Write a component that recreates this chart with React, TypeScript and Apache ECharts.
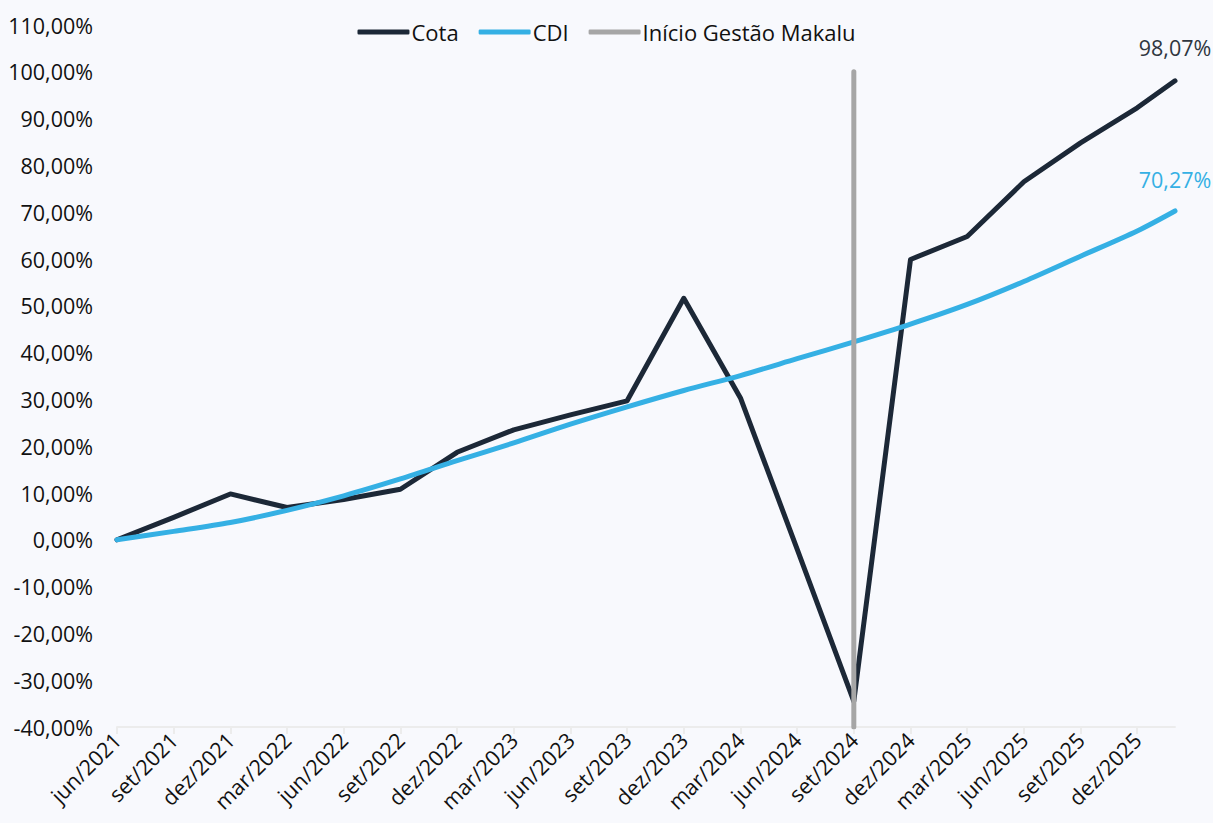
import React, { useEffect, useRef } from "react";
import * as echarts from "echarts";

const monthNames = ["jan", "fev", "mar", "abr", "mai", "jun", "jul", "ago", "set", "out", "nov", "dez"];
// monthly categories from jun/2021 to fev/2026
const categories: string[] = [];
for (let i = 0; i < 57; i++) {
  const m = (5 + i) % 12;
  const y = 2021 + Math.floor((5 + i) / 12);
  categories.push(`${monthNames[m]}/${y}`);
}

const pointIdx = [0, 3, 6, 9, 12, 15, 18, 21, 24, 27, 30, 33, 36, 39, 42, 45, 48, 51, 54, 56];
const cotaValues = [0, 4.8, 9.8, 6.9, 8.6, 10.8, 18.7, 23.5, 26.7, 29.7, 51.6, 30.3, -2.0, -34.5, 59.9, 64.8, 76.5, 84.8, 92.3, 98.07];
const cdiValues = [0, 1.8, 3.7, 6.3, 9.4, 13.0, 16.9, 20.7, 24.7, 28.4, 31.9, 35.1, 38.7, 42.3, 46.1, 50.3, 55.2, 60.6, 66.0, 70.27];
const gestaoIdx = 39;
const gestaoRange = [-40, 100];

const FONT = "Open Sans";
const COTA = "#1c2837";
const CDI = "#35b0e4";
const GRAY = "#a6a6a6";
const FS = 21.5;

const fmt = (v: number) => v.toFixed(2).replace(".", ",") + "%";

function build(values: number[], labelColor: string, dist: number) {
  return pointIdx.map((x, i) => {
    const last = i === pointIdx.length - 1;
    const item: any = { value: [x, values[i]] };
    if (last) {
      item.label = {
        show: true,
        position: "top",
        distance: dist,
        formatter: (p: any) => fmt(p.value[1]),
        color: labelColor,
        fontSize: FS,
        fontFamily: FONT,
      };
    }
    return item;
  });
}

export default function App() {
  const ref = useRef<HTMLDivElement>(null);
  useEffect(() => {
    if (!ref.current) return;
    const chart = echarts.init(ref.current, null, { renderer: "svg" });
    chart.setOption({
      animation: false,
      backgroundColor: "#f8f9fd",
      textStyle: { fontFamily: FONT },
      legend: {
        top: 16,
        left: "center",
        icon: "roundRect",
        itemWidth: 52,
        itemHeight: 5,
        itemGap: 20,
        textStyle: { fontSize: 22, fontFamily: FONT, color: "#111", padding: [0, 0, 0, -3] },
        data: ["Cota", "CDI", "Início Gestão Makalu"],
      },
      grid: { left: 117, right: 38, top: 25, bottom: 96, containLabel: false },
      xAxis: {
        type: "category",
        data: categories,
        boundaryGap: false,
        axisLine: { onZero: false, lineStyle: { color: "#ececec", width: 2 } },
        axisTick: {
          show: true,
          interval: (i: number) => i % 3 === 0,
          length: 7,
          lineStyle: { color: "#ececec", width: 2 },
        },
        axisLabel: {
          interval: (i: number) => i % 3 === 0,
          rotate: 45,
          margin: 9,
          fontSize: FS,
          fontFamily: FONT,
          color: "#111",
        },
        splitLine: { show: false },
      },
      yAxis: {
        type: "value",
        min: -40,
        max: 110,
        interval: 10,
        axisLine: { show: false },
        axisTick: { show: false },
        splitLine: { show: false },
        axisLabel: {
          formatter: (v: number) => fmt(v),
          fontSize: FS,
          fontFamily: FONT,
          color: "#111",
          margin: 24,
        },
      },
      series: [
        {
          name: "Cota",
          type: "line",
          data: build(cotaValues, "#2f3640", 22),
          showSymbol: true,
          symbol: "circle",
          symbolSize: 0,
          color: COTA,
          lineStyle: { color: COTA, width: 5, cap: "round", join: "round" },
        },
        {
          name: "CDI",
          type: "line",
          data: build(cdiValues, CDI, 20),
          showSymbol: true,
          symbol: "circle",
          symbolSize: 0,
          smooth: 0.3,
          color: CDI,
          lineStyle: { color: CDI, width: 5, cap: "round", join: "round" },
        },
        {
          name: "Início Gestão Makalu",
          type: "line",
          data: gestaoRange.map((v) => [gestaoIdx, v]),
          showSymbol: false,
          symbol: "none",
          color: GRAY,
          lineStyle: { color: GRAY, width: 5, cap: "round" },
        },
      ],
    });
    return () => chart.dispose();
  }, []);
  return <div ref={ref} style={{ width: 1213, height: 823, position: "absolute", left: 0, top: 0 }} />;
}
